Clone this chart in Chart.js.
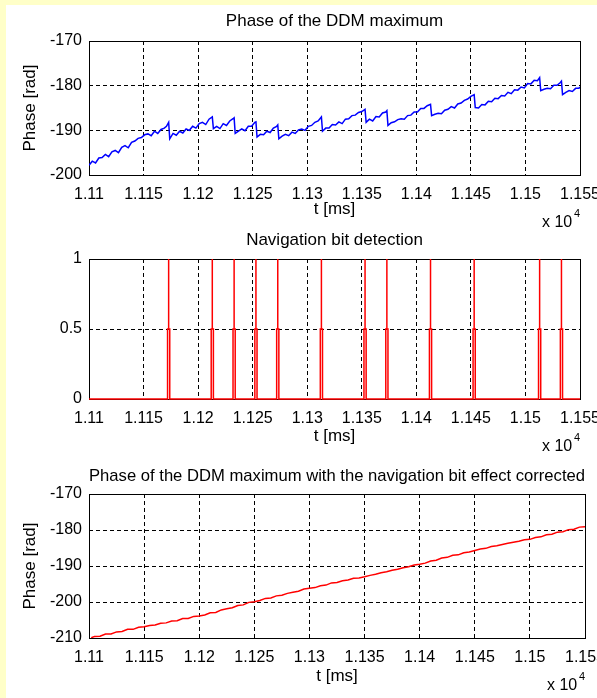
<!DOCTYPE html>
<html>
<head>
<meta charset="utf-8">
<title>Phase of the DDM maximum</title>
<script src="https://cdn.jsdelivr.net/npm/chart.js@4/dist/chart.umd.min.js"></script>
<style>
    body { margin: 0; background: #ffffff; }
    #page { position: relative; width: 597px; height: 698px; overflow: hidden; background: #ffffff; }
    .strip { position: absolute; background: #ffffc8; }
    canvas { position: absolute; left: 0; }
</style>
</head>
<body>
<div id="page">
    <div class="strip" style="left:0;top:0;width:597px;height:5px"></div>
    <div class="strip" style="left:0;top:0;width:6px;height:698px"></div>
    <canvas id="phaseChart" width="597" height="235" style="top:0"></canvas>
    <canvas id="bitChart" width="597" height="240" style="top:222px"></canvas>
    <canvas id="correctedChart" width="597" height="240" style="top:458px"></canvas>
</div>
<script>
// time axis limits [ms]
const tMin = 11100;
const tMax = 11550;

// phase of the DDM maximum (raw, with navigation bit jumps)
const tRaw =
[
    11100, 11103, 11106, 11109, 11112, 11115, 11118, 11121, 11124, 11127, 11130, 11133, 11136, 11139, 11142, 11145, 11148, 11151, 11154, 11157, 11160, 11163, 11166, 11169, 11171, 11173, 11174,
    11177, 11180, 11183, 11186, 11189, 11192, 11195, 11198, 11201, 11204, 11207, 11210, 11213, 11214,
    11217, 11220, 11223, 11226, 11229, 11232, 11233, 11234,
    11237, 11240, 11243, 11246, 11249, 11252, 11253, 11254,
    11257, 11260, 11263, 11266, 11269, 11272, 11273, 11274,
    11277, 11280, 11283, 11286, 11289, 11292, 11295, 11298, 11301, 11304, 11307, 11310, 11313, 11314,
    11317, 11320, 11323, 11326, 11329, 11332, 11335, 11338, 11341, 11344, 11347, 11350, 11353, 11354,
    11357, 11360, 11363, 11366, 11369, 11372, 11373, 11374,
    11377, 11380, 11383, 11386, 11389, 11392, 11395, 11398, 11401, 11404, 11407, 11410, 11413, 11414,
    11417, 11420, 11423, 11426, 11429, 11432, 11435, 11438, 11441, 11444, 11447, 11450, 11453, 11454,
    11457, 11460, 11463, 11466, 11469, 11472, 11475, 11478, 11481, 11484, 11487, 11490, 11493, 11496, 11499, 11502, 11505, 11508, 11511, 11513, 11514,
    11517, 11520, 11523, 11526, 11529, 11532, 11533, 11534,
    11537, 11540, 11543, 11546, 11549, 11550
];
const phaseRaw =
[
    -197.8, -196.9, -197.3, -196.2, -196.1, -195.4, -195.9, -194.8, -194.5, -195.0, -193.8, -193.4, -193.9, -192.7, -192.4, -191.8, -191.6, -191.0, -190.8, -191.2, -190.2, -190.7, -189.8, -189.5, -189.1, -188.2, -191.9,
    -190.7, -191.1, -190.2, -190.6, -189.7, -190.0, -189.1, -189.5, -188.5, -188.2, -188.7, -187.5, -187.0, -189.6,
    -189.1, -189.6, -188.5, -188.9, -187.9, -187.4, -187.2, -190.7,
    -190.2, -189.7, -190.1, -189.1, -189.1, -188.2, -188.1, -191.5,
    -190.9, -191.0, -190.2, -190.5, -189.5, -189.1, -188.8, -191.9,
    -191.3, -190.9, -191.2, -190.4, -190.7, -189.9, -189.7, -190.0, -189.1, -188.9, -188.2, -187.9, -187.0, -190.2,
    -189.5, -189.5, -188.7, -188.8, -188.1, -188.5, -187.5, -187.4, -186.7, -186.6, -186.0, -185.8, -185.3, -188.2,
    -187.5, -187.9, -186.9, -187.0, -186.1, -185.9, -185.6, -188.9,
    -188.3, -188.1, -187.6, -187.4, -187.5, -186.7, -186.6, -185.9, -185.9, -185.1, -185.1, -184.5, -184.2, -186.7,
    -186.4, -186.2, -186.3, -185.5, -185.3, -184.7, -185.0, -184.1, -183.9, -183.3, -183.0, -182.4, -182.0, -184.9,
    -185.0, -184.2, -184.3, -183.5, -183.6, -182.8, -182.9, -182.2, -182.3, -181.5, -181.8, -180.9, -181.0, -180.3, -180.5, -179.5, -179.6, -178.8, -178.9, -178.2, -181.1,
    -180.8, -180.6, -180.7, -179.9, -179.9, -179.3, -179.0, -182.0,
    -181.5, -181.1, -181.3, -180.6, -180.6, -180.3
];

// navigation bit detection: time of each detected bit flip and the pulse shape around it
const navBitTimes = [11173, 11213, 11233, 11253, 11273, 11313, 11353, 11373, 11413, 11453, 11513, 11533];
const pulseOffsets = [-1, -1, 0, 0, 0, 1, 1];
const pulseLevels = [0, 0.5, 0.5, 1, 0.5, 0.5, 0];

// phase with the navigation bit effect corrected
const tCorrected =
[
    11102, 11105, 11110, 11115, 11120, 11125, 11130, 11135, 11140, 11145, 11150, 11155, 11160, 11165, 11170, 11175, 11180, 11185, 11190, 11195,
    11200, 11205, 11210, 11215, 11220, 11225, 11230, 11235, 11240, 11245, 11250, 11255, 11260, 11265, 11270, 11275, 11280, 11285, 11290, 11295,
    11300, 11305, 11310, 11315, 11320, 11325, 11330, 11335, 11340, 11345, 11350, 11355, 11360, 11365, 11370, 11375, 11380, 11385, 11390, 11395,
    11400, 11405, 11410, 11415, 11420, 11425, 11430, 11435, 11440, 11445, 11450, 11455, 11460, 11465, 11470, 11475, 11480, 11485, 11490, 11495,
    11500, 11505, 11510, 11515, 11520, 11525, 11530, 11535, 11540, 11545, 11550
];
const phaseCorrected =
[
    -209.9, -209.6, -209.5, -208.9, -208.9, -208.3, -208.2, -207.6, -207.6, -207.0, -206.9, -206.5, -206.4, -205.9, -205.8, -205.3, -205.2, -204.6, -204.6, -204.0,
    -203.9, -203.6, -203.0, -202.9, -202.2, -201.9, -201.6, -201.0, -200.8, -200.1, -199.9, -199.6, -199.0, -198.9, -198.3, -198.1, -197.6, -197.3, -197.0, -196.4,
    -196.2, -196.0, -195.5, -195.3, -194.7, -194.6, -194.1, -193.9, -193.4, -193.3, -193.0, -192.6, -192.3, -191.9, -191.6, -191.2, -190.9, -190.5, -190.2, -189.7,
    -189.5, -189.2, -188.6, -188.4, -187.8, -187.6, -187.0, -186.9, -186.3, -186.1, -185.7, -185.3, -185.1, -184.6, -184.4, -184.0, -183.7, -183.4, -183.1, -182.7,
    -182.6, -182.1, -181.9, -181.3, -181.2, -180.6, -180.5, -179.9, -179.8, -179.2, -179.1
];

const FONT = "'Liberation Sans', Arial, Helvetica, sans-serif";
Chart.defaults.font.family = FONT;
Chart.defaults.color = "#000000";

function toPoints(xs, ys)
{
    return xs.map((x, i) => ({ x: x, y: ys[i] }));
}

function bitDetectionPoints()
{
    const points = [{ x: tMin, y: 0 }];
    for (const t of navBitTimes)
    {
        pulseOffsets.forEach((d, i) => points.push({ x: t + d, y: pulseLevels[i] }));
    }
    points.push({ x: tMax, y: 0 });
    return points;
}

// MATLAB style closed box around the axes
const axesBox =
{
    id: "axesBox",
    beforeDatasetsDraw(chart)
    {
        const { ctx, chartArea: a } = chart;
        ctx.save();
        ctx.strokeStyle = "#000000";
        ctx.lineWidth = 1;
        ctx.strokeRect(Math.round(a.left) + 0.5, Math.round(a.top) + 0.5, Math.round(a.right - a.left), Math.round(a.bottom - a.top));
        ctx.restore();
    }
};

// the "x 10^4" multiplier under the time axis
const exponentLabel =
{
    id: "exponentLabel",
    afterDraw(chart)
    {
        const { ctx, chartArea: a } = chart;
        ctx.save();
        ctx.fillStyle = "#000000";
        ctx.textBaseline = "alphabetic";
        ctx.textAlign = "left";
        ctx.font = "16px " + FONT;
        ctx.fillText("x 10", a.right - 38, a.bottom + 52);
        ctx.font = "11px " + FONT;
        ctx.fillText("4", a.right - 6, a.bottom + 42);
        ctx.restore();
    }
};

function panelOptions(p)
{
    return {
        responsive: false,
        animation: false,
        layout: { padding: { left: 0, right: p.right, top: 0, bottom: 0 } },
        plugins:
        {
            legend: { display: false },
            tooltip: { enabled: false },
            title:
            {
                display: true,
                text: p.title,
                fullSize: false,
                color: "#000000",
                font: { size: 17, weight: "normal" },
                padding: { top: p.titleTop, bottom: p.titleBottom }
            }
        },
        scales:
        {
            x:
            {
                type: "linear",
                min: tMin,
                max: tMax,
                afterFit: s => { s.height = p.xHeight; s.paddingLeft = 0; s.paddingRight = 0; },
                grid: { color: "#000000", lineWidth: 1, drawTicks: false },
                border: { display: false, dash: [4, 3] },
                ticks:
                {
                    stepSize: 50,
                    padding: 10,
                    maxRotation: 0,
                    autoSkip: false,
                    color: "#000000",
                    font: { size: 16 },
                    callback: v => String(+(v / 10000).toFixed(3))
                },
                title:
                {
                    display: true,
                    text: "t [ms]",
                    color: "#000000",
                    font: { size: 17 },
                    padding: { top: 0, bottom: p.xTitleBottom }
                }
            },
            y:
            {
                min: p.yMin,
                max: p.yMax,
                afterFit: s => { s.width = 89; s.paddingTop = 0; s.paddingBottom = 0; },
                grid: { color: "#000000", lineWidth: 1, drawTicks: false },
                border: { display: false, dash: [4, 3] },
                ticks:
                {
                    stepSize: p.yStep,
                    padding: 7,
                    color: "#000000",
                    font: { size: 16 },
                    callback: v => String(v)
                },
                title:
                {
                    display: p.yTitle !== "",
                    text: p.yTitle,
                    color: "#000000",
                    font: { size: 17 },
                    padding: { top: 20, bottom: 0 }
                }
            }
        }
    };
}

new Chart(document.getElementById("phaseChart"),
{
    type: "line",
    data:
    {
        datasets:
        [
            {
                data: toPoints(tRaw, phaseRaw),
                borderColor: "#0000ff",
                borderWidth: 1.5,
                pointRadius: 0,
                tension: 0
            }
        ]
    },
    options: panelOptions(
    {
        title: "Phase of the DDM maximum",
        right: 17, titleTop: 11, titleBottom: 9.6,
        xHeight: 60, xTitleBottom: 15,
        yMin: -200, yMax: -170, yStep: 10, yTitle: "Phase [rad]"
    }),
    plugins: [axesBox, exponentLabel]
});

new Chart(document.getElementById("bitChart"),
{
    type: "line",
    data:
    {
        datasets:
        [
            {
                data: bitDetectionPoints(),
                borderColor: "#ff0000",
                borderWidth: 1.5,
                pointRadius: 0,
                tension: 0,
                clip: 3
            }
        ]
    },
    options: panelOptions(
    {
        title: "Navigation bit detection",
        right: 17, titleTop: 8, titleBottom: 8.6,
        xHeight: 63, xTitleBottom: 15,
        yMin: 0, yMax: 1, yStep: 0.5, yTitle: ""
    }),
    plugins: [axesBox, exponentLabel]
});

new Chart(document.getElementById("correctedChart"),
{
    type: "line",
    data:
    {
        datasets:
        [
            {
                data: toPoints(tCorrected, phaseCorrected),
                borderColor: "#ff0000",
                borderWidth: 1.5,
                pointRadius: 0,
                tension: 0
            }
        ]
    },
    options: panelOptions(
    {
        title: "Phase of the DDM maximum with the navigation bit effect corrected",
        right: 12, titleTop: 8, titleBottom: 7.6,
        xHeight: 60, xTitleBottom: 11,
        yMin: -210, yMax: -170, yStep: 10, yTitle: "Phase [rad]"
    }),
    plugins: [axesBox, exponentLabel]
});
</script>
</body>
</html>
